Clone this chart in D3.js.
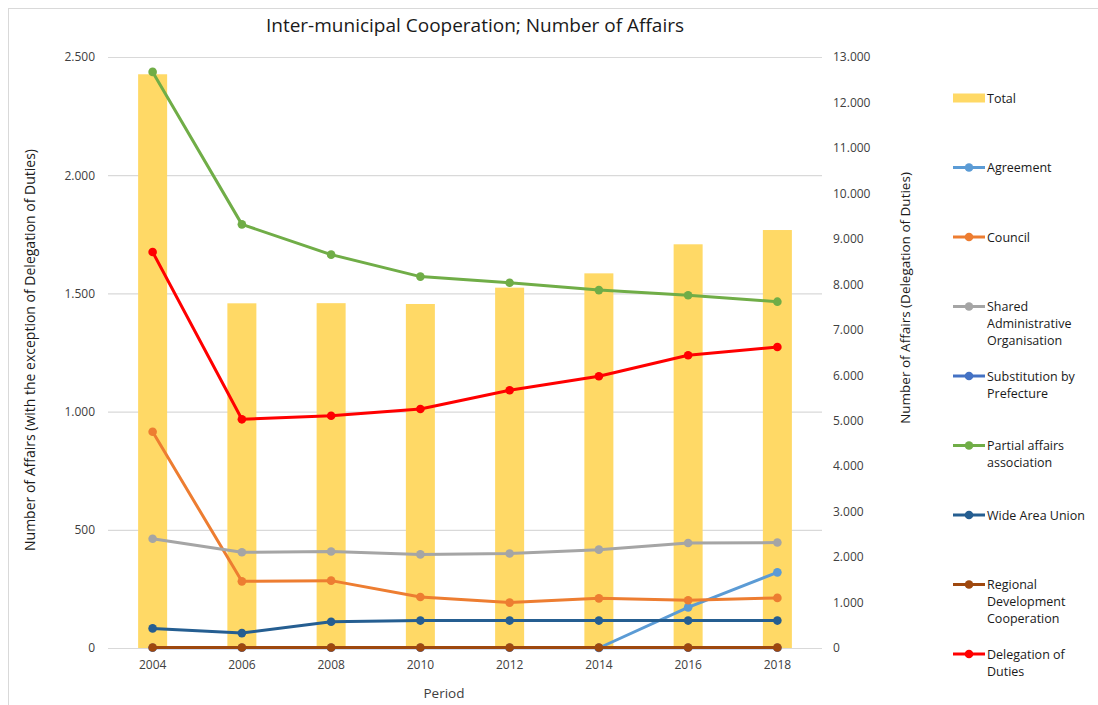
<!DOCTYPE html>
<html>
<head>
<meta charset="utf-8">
<script src="https://cdn.jsdelivr.net/npm/d3@7"></script>
<style>
  body { margin: 0; background: #fff; }
  svg text { font-family: "Open Sans", "Noto Sans", sans-serif; }
</style>
</head>
<body>
<svg id="chart" width="1098" height="705"></svg>
<script>
var periods = ['2004', '2006', '2008', '2010', '2012', '2014', '2016', '2018'];

// right axis
var total = [12620, 7582, 7585, 7567, 7926, 8241, 8880, 9194];
var delegationOfDuties = [8711, 5030, 5110, 5257, 5668, 5976, 6438, 6621];

// left axis
var agreement = [null, null, null, null, null, 0, 172, 320];
var council = [915, 282, 285, 216, 192, 210, 202, 212];
var sharedAdmin = [462, 405, 408, 396, 400, 416, 444, 446];
var substitution = [1, 1, 1, 1, 1, 1, 1, 1];
var partialAffairs = [2437, 1792, 1664, 1571, 1545, 1514, 1492, 1465];
var wideAreaUnion = [83, 63, 111, 116, 116, 116, 116, 116];
var regionalDev = [2, 2, 2, 2, 2, 2, 2, 2];

var leftTicks = [0, 500, 1000, 1500, 2000, 2500];
var rightTicks = [0, 1000, 2000, 3000, 4000, 5000, 6000, 7000, 8000, 9000, 10000, 11000, 12000, 13000];

var lineSeries = [
  { name: 'Agreement', values: agreement, color: '#5B9BD5', axis: 'left' },
  { name: 'Council', values: council, color: '#ED7D31', axis: 'left' },
  { name: 'Shared Administrative Organisation', lines: ['Shared', 'Administrative', 'Organisation'], values: sharedAdmin, color: '#A5A5A5', axis: 'left' },
  { name: 'Substitution by Prefecture', lines: ['Substitution by', 'Prefecture'], values: substitution, color: '#4472C4', axis: 'left' },
  { name: 'Partial affairs association', lines: ['Partial affairs', 'association'], values: partialAffairs, color: '#70AD47', axis: 'left' },
  { name: 'Wide Area Union', values: wideAreaUnion, color: '#255E91', axis: 'left' },
  { name: 'Regional Development Cooperation', lines: ['Regional', 'Development', 'Cooperation'], values: regionalDev, color: '#9E480E', axis: 'left' },
  { name: 'Delegation of Duties', lines: ['Delegation of', 'Duties'], values: delegationOfDuties, color: '#FF0000', axis: 'right' }
];

var svg = d3.select('#chart');
var plot = { left: 108, right: 822, top: 57, bottom: 648 };

var fmt = function(v) { return d3.format(',')(v).replace(/,/g, '.'); };

var x = d3.scaleBand().domain(periods).range([plot.left, plot.right]).padding(0);
var yLeft = d3.scaleLinear().domain([0, 2500]).range([plot.bottom, plot.top]);
var yRight = d3.scaleLinear().domain([0, 13000]).range([plot.bottom, plot.top]);

// outer chart frame
svg.append('rect')
  .attr('x', 8.5).attr('y', 8.5)
  .attr('width', 1120).attr('height', 720)
  .attr('fill', 'none').attr('stroke', '#d9d9d9');

svg.append('text')
  .attr('x', 475).attr('y', 32)
  .attr('text-anchor', 'middle')
  .style('font-size', '19px')
  .style('fill', '#1a1a1a')
  .text('Inter-municipal Cooperation; Number of Affairs');

// gridlines (left axis)
svg.append('g')
  .attr('transform', 'translate(' + plot.left + ',0)')
  .call(d3.axisLeft(yLeft).tickValues(leftTicks).tickSize(-(plot.right - plot.left)).tickFormat(''))
  .call(function(g) {
    g.select('.domain').remove();
    g.selectAll('line').attr('stroke', '#d9d9d9').attr('stroke-width', 1.2);
  });

// left tick labels
svg.append('g')
  .attr('transform', 'translate(' + plot.left + ',0)')
  .call(d3.axisLeft(yLeft).tickValues(leftTicks).tickSize(0).tickPadding(13).tickFormat(fmt))
  .call(function(g) {
    g.select('.domain').remove();
    g.selectAll('text').style('font-size', '12px').style('fill', '#404040');
  });

// right tick labels
svg.append('g')
  .attr('transform', 'translate(' + plot.right + ',0)')
  .call(d3.axisRight(yRight).tickValues(rightTicks).tickSize(0).tickPadding(11).tickFormat(fmt))
  .call(function(g) {
    g.select('.domain').remove();
    g.selectAll('text').style('font-size', '12px').style('fill', '#404040');
  });

// x axis labels
svg.append('g')
  .attr('transform', 'translate(0,' + plot.bottom + ')')
  .call(d3.axisBottom(x).tickSize(0).tickPadding(12))
  .call(function(g) {
    g.select('.domain').remove();
    g.selectAll('text').style('font-size', '12px').style('fill', '#404040');
  });

// axis titles
svg.append('text')
  .attr('x', 444).attr('y', 698)
  .attr('text-anchor', 'middle')
  .style('font-size', '13.5px').style('fill', '#404040')
  .text('Period');

svg.append('text')
  .attr('transform', 'translate(35,350) rotate(-90)')
  .attr('text-anchor', 'middle')
  .style('font-size', '14px').style('fill', '#1a1a1a')
  .text('Number of Affairs (with the exception of  Delegation of Duties)');

svg.append('text')
  .attr('transform', 'translate(910,298) rotate(-90)')
  .attr('text-anchor', 'middle')
  .style('font-size', '13.5px').style('fill', '#1a1a1a')
  .text('Number of Affairs (Delegation of Duties)');

// Total bars on the right axis
var barW = x.bandwidth() * 0.325;
svg.append('g').selectAll('rect')
  .data(total)
  .enter().append('rect')
  .attr('x', function(d, i) { return x(periods[i]) + x.bandwidth() / 2 - barW / 2; })
  .attr('y', function(d) { return yRight(d); })
  .attr('width', barW)
  .attr('height', function(d) { return yRight(0) - yRight(d); })
  .attr('fill', '#FFD966');

/* Lines drawn in series order, so later series sit on top of earlier ones
(Regional Development hides Substitution and the start of Agreement at zero). */
lineSeries.forEach(function(s) {
  var yScale = s.axis === 'right' ? yRight : yLeft;
  var pts = s.values.map(function(v, i) { return { p: periods[i], v: v }; })
    .filter(function(d) { return d.v !== null; });

  var line = d3.line()
    .x(function(d) { return x(d.p) + x.bandwidth() / 2; })
    .y(function(d) { return yScale(d.v); });

  var g = svg.append('g');
  g.append('path')
    .datum(pts)
    .attr('d', line)
    .attr('fill', 'none')
    .attr('stroke', s.color)
    .attr('stroke-width', 3)
    .attr('stroke-linejoin', 'round');

  g.selectAll('circle')
    .data(pts)
    .enter().append('circle')
    .attr('cx', function(d) { return x(d.p) + x.bandwidth() / 2; })
    .attr('cy', function(d) { return yScale(d.v); })
    .attr('r', 4.3)
    .attr('fill', s.color);
});

// legend
var legendItems = [{ name: 'Total', color: '#FFD966', bar: true }].concat(lineSeries);
var legend = svg.append('g').attr('transform', 'translate(953,0)');
legendItems.forEach(function(s, i) {
  var cy = 98 + i * 69.5;
  var item = legend.append('g');
  if (s.bar) {
    item.append('rect')
      .attr('x', 0).attr('y', cy - 4.5)
      .attr('width', 32).attr('height', 9)
      .attr('fill', s.color);
  } else {
    item.append('line')
      .attr('x1', 0).attr('x2', 32)
      .attr('y1', cy).attr('y2', cy)
      .attr('stroke', s.color).attr('stroke-width', 3);
    item.append('circle')
      .attr('cx', 16).attr('cy', cy).attr('r', 4.3)
      .attr('fill', s.color);
  }
  var lines = s.lines || [s.name];
  var t = item.append('text')
    .attr('x', 34).attr('y', cy + 4.5)
    .style('font-size', '12.5px').style('fill', '#1a1a1a');
  lines.forEach(function(l, j) {
    t.append('tspan').attr('x', 34).attr('dy', j === 0 ? 0 : 17).text(l);
  });
});
</script>
</body>
</html>
